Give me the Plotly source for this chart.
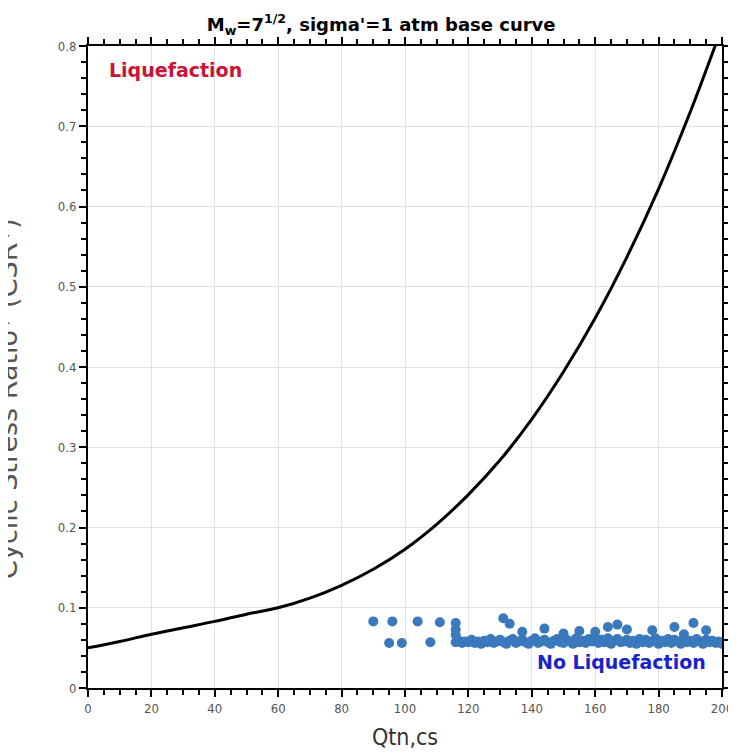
import plotly.graph_objects as go

# Curva base (Mw=7.5, sigma'=1 atm)
qtn_curva = [0, 10, 20, 30, 40, 50, 60, 70, 80, 90, 100, 110, 120, 130, 140,
             150, 160, 170, 180, 190, 198]
csr_curva = [0.050, 0.058, 0.067, 0.075, 0.083, 0.092, 0.100, 0.112, 0.128, 0.148,
             0.173, 0.204, 0.241, 0.284, 0.335, 0.394, 0.461, 0.537, 0.622, 0.718, 0.802]

# Puntos de ensayo (CPT): puntos sueltos
qtn_sueltos = [90, 96, 104, 111, 116, 95, 99, 108, 116, 116,
               131, 133, 137, 144, 150, 155, 164, 167, 170, 178, 185, 191, 195, 188, 160]
csr_sueltos = [0.083, 0.083, 0.083, 0.082, 0.081, 0.056, 0.056, 0.057, 0.073, 0.066,
               0.087, 0.080, 0.070, 0.074, 0.068, 0.071, 0.076, 0.079, 0.073, 0.072, 0.076, 0.081, 0.072, 0.067, 0.070]

# Banda densa de puntos
qtn_banda = [116, 117, 118, 119, 120, 121, 122, 123, 124, 125, 126, 127, 128, 129, 130,
             131, 132, 133, 134, 135, 136, 137, 138, 139, 140, 141, 142, 143, 144, 145,
             146, 147, 148, 149, 150, 151, 152, 153, 154, 155, 156, 157, 158, 159, 160,
             161, 162, 163, 164, 165, 166, 167, 168, 169, 170, 171, 172, 173, 174, 175,
             176, 177, 178, 179, 180, 181, 182, 183, 184, 185, 186, 187, 188, 189, 190,
             191, 192, 193, 194, 195, 196, 197, 198, 199, 200, 201]
csr_banda = [0.057, 0.059, 0.056, 0.058, 0.057, 0.060, 0.056, 0.058, 0.055, 0.059, 0.057, 0.061, 0.056, 0.058, 0.060,
             0.057, 0.055, 0.059, 0.061, 0.056, 0.058, 0.060, 0.057, 0.055, 0.059, 0.062, 0.056, 0.058, 0.060, 0.057,
             0.055, 0.059, 0.061, 0.057, 0.056, 0.060, 0.058, 0.055, 0.062, 0.057, 0.059, 0.056, 0.061, 0.058, 0.063,
             0.056, 0.060, 0.057, 0.062, 0.055, 0.059, 0.061, 0.057, 0.058, 0.060, 0.056, 0.059, 0.055, 0.061, 0.057,
             0.060, 0.056, 0.058, 0.062, 0.055, 0.059, 0.057, 0.061, 0.056, 0.060, 0.058, 0.055, 0.062, 0.057, 0.059,
             0.056, 0.061, 0.058, 0.055, 0.060, 0.057, 0.059, 0.056, 0.058, 0.055, 0.057]

fig = go.Figure()

fig.add_trace(go.Scatter(
    x=qtn_banda, y=csr_banda,
    mode="markers",
    marker=dict(color="#3b79bd", size=10),
    showlegend=False,
))

fig.add_trace(go.Scatter(
    x=qtn_sueltos, y=csr_sueltos,
    mode="markers",
    marker=dict(color="#3b79bd", size=10),
    showlegend=False,
))

fig.add_trace(go.Scatter(
    x=qtn_curva, y=csr_curva,
    mode="lines",
    line=dict(color="black", width=3, shape="spline"),
    showlegend=False,
))

# Textos de zonas
fig.add_annotation(x=0.03, y=0.963, xref="paper", yref="paper", xanchor="left", yanchor="middle",
                   text="<b>Liquefaction</b>", showarrow=False,
                   font=dict(family="DejaVu Sans", size=19, color="#cc1236"))
fig.add_annotation(x=0.978, y=0.04, xref="paper", yref="paper", xanchor="right", yanchor="middle",
                   text="<b>No Liquefaction</b>", showarrow=False,
                   font=dict(family="DejaVu Sans", size=19, color="#1a22cc"))

# Título del eje Y (recortado por el borde izquierdo como en el original)
fig.add_annotation(x=-0.128, y=0.45, xref="paper", yref="paper", xanchor="center", yanchor="middle",
                   text="Cyclic Stress Ratio* (CSR*)", textangle=-90, showarrow=False,
                   font=dict(family="DejaVu Sans", size=27, color="#555"))

eje = dict(
    showline=True, linecolor="black", linewidth=2, mirror="allticks",
    ticks="outside", ticklen=7, tickwidth=2, tickcolor="black",
    showgrid=True, gridcolor="#e2e2e2", gridwidth=1,
    zeroline=False, automargin=False,
    tickfont=dict(family="DejaVu Sans Condensed, DejaVu Sans", size=13, color="#555"),
)

fig.update_xaxes(**eje, range=[0, 200], dtick=20,
                 minor=dict(dtick=5, ticks="outside", ticklen=5, tickwidth=2, tickcolor="black", showgrid=False),
                 title=dict(text="Qtn,cs", font=dict(family="DejaVu Sans Condensed, DejaVu Sans", size=23, color="#333"),
                            standoff=14))
fig.update_yaxes(**eje, range=[0, 0.8], dtick=0.1,
                 minor=dict(dtick=0.02, ticks="outside", ticklen=5, tickwidth=2, tickcolor="black", showgrid=False))

fig.update_layout(
    width=736, height=753,
    margin=dict(l=80, r=22, t=38, b=73),
    paper_bgcolor="white", plot_bgcolor="white",
    title=dict(text="<b>M<sub>w</sub>=7<sup>1/2</sup>, sigma'=1 atm base curve</b>",
               x=0.507, xanchor="center", y=0.978, yanchor="middle",
               font=dict(family="DejaVu Sans", size=18, color="black")),
)

fig.write_html("out.html")
